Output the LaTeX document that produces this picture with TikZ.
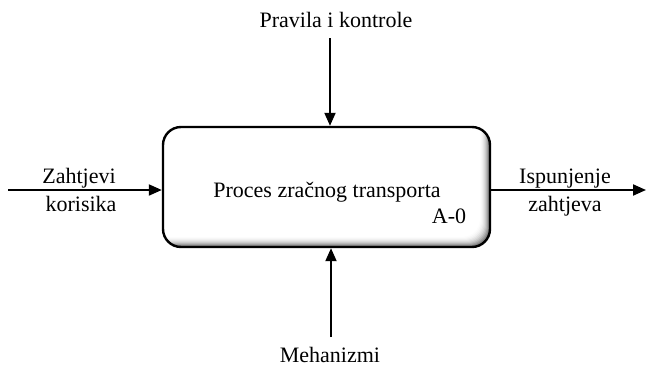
\documentclass[tikz,border=0pt]{standalone}
\usepackage{fontspec}
\setmainfont{Liberation Serif}
\usetikzlibrary{arrows.meta}
\begin{document}
\begin{tikzpicture}[x=1pt,y=-1pt,
  lbl/.style={font=\fontsize{22}{25}\selectfont, inner sep=0pt, anchor=base},
  arr/.style={line width=2pt, -{Triangle[length=13pt,width=11pt]}},
  procbox/.style={draw, line width=2.4pt, rounded corners=18pt, minimum width=327pt, minimum height=120pt, inner sep=0pt}]
\useasboundingbox (0,0) rectangle (646,367);
% inner shadow of the box
\begin{scope}
  \clip[rounded corners=18pt] (163,127) rectangle (490,247);
  \fill[black!60] (163,127) rectangle (490,247);
  \foreach \i/\c in {1/48,2/38,3/29,4/21,5/15,6/10,7/6,8/3,9/1,10/0}
    \fill[rounded corners=18pt, black!\c] (140,105) rectangle (490-\i,247-\i);
\end{scope}
\node[procbox] (box) at (326.5,187) {};
\node[lbl] (title) at (327,197) {Proces zračnog transporta};
\node[lbl] (code) at (449,223) {A-0};
% labels
\node[lbl] (ctrl) at (336,27) {Pravila i kontrole};
\node[lbl] (mech) at (330,362) {Mehanizmi};
\node[lbl] (in1) at (79,183) {Zahtjevi};
\node[lbl] (in2) at (81,211) {korisika};
\node[lbl] (out1) at (565,183) {Ispunjenje};
\node[lbl] (out2) at (565,211) {zahtjeva};
% connector ends
\coordinate (ctop) at (330,38);
\coordinate (mbot) at (331,337);
\coordinate (lin) at (8,190);
\coordinate (rout) at (646,190);
% connectors
\draw[arr] (ctop) -- (ctop |- box.north);
\draw[arr] (mbot) -- (mbot |- box.south);
\draw[arr] (lin) -- (lin -| box.west);
\draw[arr] (lin -| box.east) -- (rout);
\end{tikzpicture}
\end{document}
